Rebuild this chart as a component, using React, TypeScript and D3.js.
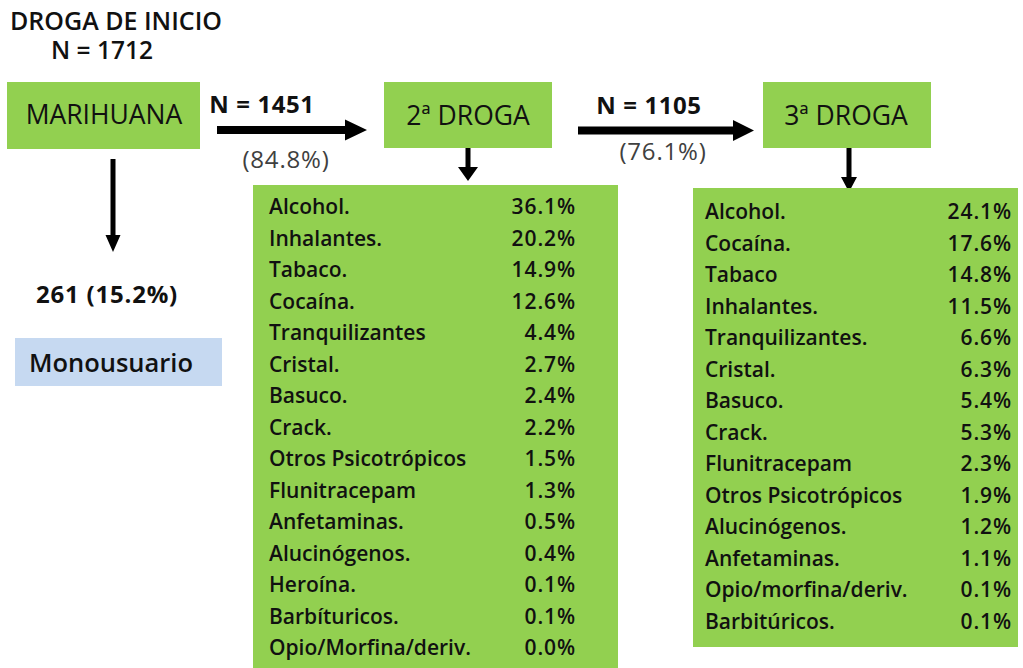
import React from "react";
import * as d3 from "d3";

const title = "DROGA DE INICIO";
const totalN = 1712;
const startDrug = "MARIHUANA";
const secondN = 1451;
const secondPct = 84.8;
const thirdN = 1105;
const thirdPct = 76.1;
const monoN = 261;
const monoPct = 15.2;
const monoLabel = "Monousuario";
const secondTitle = "2ª DROGA";
const thirdTitle = "3ª DROGA";

const secondLabels = [
  "Alcohol.", "Inhalantes.", "Tabaco.", "Cocaína.", "Tranquilizantes", "Cristal.", "Basuco.",
  "Crack.", "Otros Psicotrópicos", "Flunitracepam", "Anfetaminas.", "Alucinógenos.",
  "Heroína.", "Barbíturicos.", "Opio/Morfina/deriv.",
];
const secondValues = [36.1, 20.2, 14.9, 12.6, 4.4, 2.7, 2.4, 2.2, 1.5, 1.3, 0.5, 0.4, 0.1, 0.1, 0.0];

const thirdLabels = [
  "Alcohol.", "Cocaína.", "Tabaco", "Inhalantes.", "Tranquilizantes.", "Cristal.", "Basuco.",
  "Crack.", "Flunitracepam", "Otros Psicotrópicos", "Alucinógenos.", "Anfetaminas.",
  "Opio/morfina/deriv.", "Barbitúricos.",
];
const thirdValues = [24.1, 17.6, 14.8, 11.5, 6.6, 6.3, 5.4, 5.3, 2.3, 1.9, 1.2, 1.1, 0.1, 0.1];

const GREEN = "#92d050";
const BLUE = "#c6d9f1";
const FONT = "'Open Sans', 'Noto Sans', sans-serif";
const fmt = d3.format(".1f");

function hArrow(x0: number, x1: number, y: number, shaft: number, headLen: number, headH: number) {
  const p = d3.path();
  p.moveTo(x0, y - shaft / 2);
  p.lineTo(x1 - headLen, y - shaft / 2);
  p.lineTo(x1 - headLen, y - headH / 2);
  p.lineTo(x1, y);
  p.lineTo(x1 - headLen, y + headH / 2);
  p.lineTo(x1 - headLen, y + shaft / 2);
  p.lineTo(x0, y + shaft / 2);
  p.closePath();
  return p.toString();
}
function vArrow(x: number, y0: number, y1: number, shaft: number, headLen: number, headW: number) {
  const p = d3.path();
  p.moveTo(x - shaft / 2, y0);
  p.lineTo(x + shaft / 2, y0);
  p.lineTo(x + shaft / 2, y1 - headLen);
  p.lineTo(x + headW / 2, y1 - headLen);
  p.lineTo(x, y1);
  p.lineTo(x - headW / 2, y1 - headLen);
  p.lineTo(x - shaft / 2, y1 - headLen);
  p.closePath();
  return p.toString();
}

function List({ labels, values, x0, x1, top, bottom, first, last, labelX, valueX }: any) {
  const y = d3.scalePoint<number>().domain(labels.map((_: string, i: number) => i)).range([first, last]);
  return (
    <g>
      <rect x={x0} y={top} width={x1 - x0} height={bottom - top} fill={GREEN} />
      {labels.map((l: string, i: number) => (
        <g key={i}>
          <text x={labelX} y={y(i)} fontSize={21} fontWeight={600} fill="#111">{l}</text>
          <text x={valueX} y={y(i)} fontSize={21} fontWeight={600} fill="#111" textAnchor="end" letterSpacing={0.9}>
            {fmt(values[i]) + "%"}
          </text>
        </g>
      ))}
    </g>
  );
}

export default function App() {
  return (
    <svg width={1023} height={668} style={{ position: "absolute", left: 0, top: 0, background: "#fff" }} fontFamily={FONT}>
      <rect width={1023} height={668} fill="#fff" />
      <text x={116} y={30} fontSize={25} fontWeight={600} textAnchor="middle" fill="#111">{title}</text>
      <text x={102} y={59} fontSize={24.5} fontWeight={600} textAnchor="middle" fill="#111">{"N = " + totalN}</text>

      <rect x={7} y={82} width={193} height={67} fill={GREEN} />
      <text x={104} y={124} fontSize={26.5} fontWeight={400} textAnchor="middle" fill="#111">{startDrug}</text>

      <text x={262} y={113} fontSize={24} fontWeight={700} textAnchor="middle" fill="#111" letterSpacing={0.6}>{"N = " + secondN}</text>
      <path d={hArrow(217, 367, 130, 8, 22, 21)} fill="#000" />
      <text x={286} y={168} fontSize={24} fontWeight={400} textAnchor="middle" fill="#404040" letterSpacing={0.8}>{"(" + fmt(secondPct) + "%)"}</text>

      <rect x={384} y={82} width={168} height={66} fill={GREEN} />
      <text x={468} y={125} fontSize={26.5} fontWeight={400} textAnchor="middle" fill="#111">{secondTitle}</text>

      <text x={649} y={114} fontSize={24} fontWeight={700} textAnchor="middle" fill="#111" letterSpacing={0.6}>{"N = " + thirdN}</text>
      <path d={hArrow(578, 754, 130.5, 8, 21, 21)} fill="#000" />
      <text x={663} y={160} fontSize={24} fontWeight={400} textAnchor="middle" fill="#404040" letterSpacing={0.8}>{"(" + fmt(thirdPct) + "%)"}</text>

      <rect x={763} y={82} width={168} height={66} fill={GREEN} />
      <text x={846} y={125} fontSize={26.5} fontWeight={400} textAnchor="middle" fill="#111">{thirdTitle}</text>

      <path d={vArrow(113, 159, 252, 5, 17, 15)} fill="#000" />
      <text x={107} y={303} fontSize={24} fontWeight={700} textAnchor="middle" fill="#111" letterSpacing={0.8}>{`${monoN} (${fmt(monoPct)}%)`}</text>
      <rect x={15} y={338} width={207} height={48} fill={BLUE} />
      <text x={111} y={372} fontSize={25.5} fontWeight={600} textAnchor="middle" fill="#111">{monoLabel}</text>

      <path d={vArrow(468, 148, 181, 5, 14, 20)} fill="#000" />
      <List labels={secondLabels} values={secondValues} x0={253} x1={618} top={185} bottom={668} first={214} last={655} labelX={269} valueX={576} />

      <path d={vArrow(849, 148, 192, 5, 15, 16)} fill="#000" />
      <List labels={thirdLabels} values={thirdValues} x0={693} x1={1018} top={188} bottom={647} first={219} last={629} labelX={705} valueX={1012} />
    </svg>
  );
}
